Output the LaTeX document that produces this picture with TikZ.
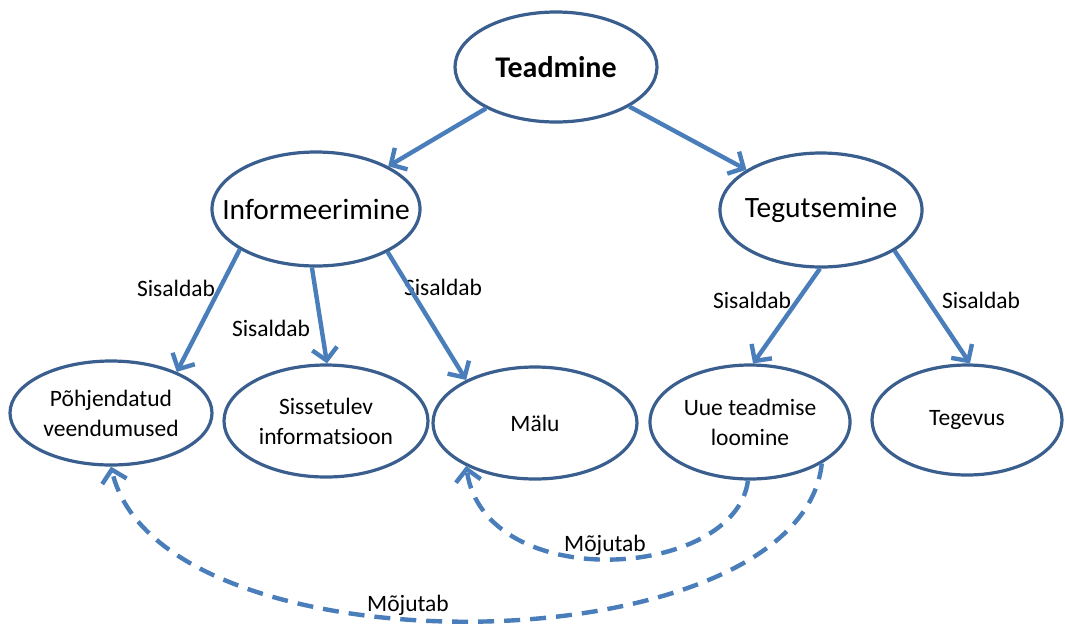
\documentclass[tikz,border=0pt]{standalone}
\usepackage{fontspec}
\setmainfont{Carlito}
\usetikzlibrary{shapes.geometric,arrows.meta}
\definecolor{ebord}{HTML}{3A5F8F}
\definecolor{arr}{HTML}{4A7EBB}
\newcommand\zw[1]{\makebox[0pt]{#1}}
\begin{document}
\begin{tikzpicture}[x=1pt,y=-1pt,
  ell/.style={ellipse, draw=ebord, line width=3.2pt, inner sep=0pt, fill=white, align=center},
  big/.style={font=\fontsize{29.5}{34}\selectfont},
  small/.style={font=\fontsize{23.5}{30}\selectfont},
  conn/.style={draw=arr, line width=4.4pt, -{Straight Barb[length=12pt,width=25pt]}},
  dconn/.style={conn, dash pattern=on 16pt off 10pt},
  lbl/.style={small, inner sep=0pt}]
\useasboundingbox (0,0) rectangle (1065,625);
% nodes
\node[ell, minimum width=202pt, minimum height=110pt, font=\bfseries\fontsize{30}{34}\selectfont] (T) at (556,67) {\zw{Teadmine}};
\node[ell, big, minimum width=208pt, minimum height=114pt] (I) at (316,209) {\zw{Informeerimine}};
\node[ell, big, minimum width=202pt, minimum height=114pt] (G) at (821,210) {\zw{Tegutsemine}};
\node[ell, small, minimum width=202pt, minimum height=104pt] (P) at (111,413) {\zw{Põhjendatud}\\\zw{veendumused}};
\node[ell, small, minimum width=204pt, minimum height=112pt] (S) at (326,421) {\zw{Sissetulev}\\\zw{informatsioon}};
\node[ell, small, minimum width=204pt, minimum height=112pt] (M) at (535,423) {\zw{Mälu}};
\node[ell, small, minimum width=200pt, minimum height=114pt] (U) at (750,422) {\zw{Uue teadmise}\\\zw{loomine}};
\node[ell, small, minimum width=190pt, minimum height=110pt] (V) at (967,420) {\zw{Tegevus}};
% labels
\node[lbl] (l1) at (176,288) {Sisaldab};
\node[lbl] (l2) at (271,328) {Sisaldab};
\node[lbl] (l3) at (443,287) {Sisaldab};
\node[lbl] (l4) at (752,300) {Sisaldab};
\node[lbl] (l5) at (981,300) {Sisaldab};
\node[lbl] (m1) at (605,545) {Mõjutab};
\node[lbl] (m2) at (408,605) {Mõjutab};
% connectors
\draw[conn] (T) -- (I);
\draw[conn] (T) -- (G);
\draw[conn] (I.208) -- (P.32);
\draw[conn] (I.266) -- (S.89);
\draw[conn] (I.329) -- (M.148);
\draw[conn] (G.269) -- (U.87);
\draw[conn] (G.331) -- (V.87);
\draw[dconn] (U.268) .. controls (735,580) and (485,595) .. (M.212);
\draw[dconn] (U.330) .. controls (800,668) and (160,678) .. (P.270);
\end{tikzpicture}
\end{document}
